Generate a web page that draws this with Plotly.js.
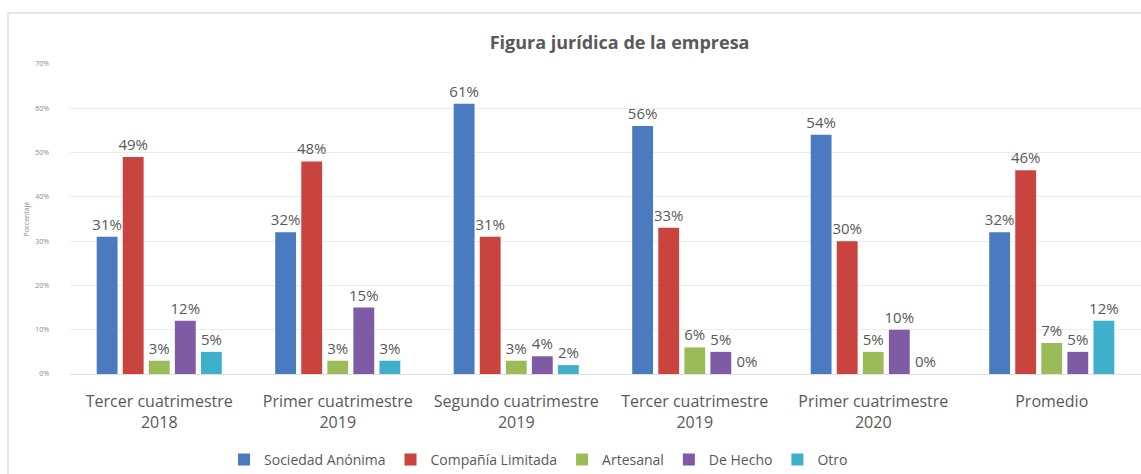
<!DOCTYPE html>
<html><head><meta charset="utf-8">
<script src="https://cdn.plot.ly/plotly-3.0.1.min.js"></script>
<style>
html,body{margin:0;padding:0;background:#fff;}
#wrap{position:relative;width:1141px;height:474px;}
#chart{width:1141px;height:474px;}
#frame{position:absolute;left:7px;top:12px;width:1140px;height:470px;border-left:2px solid #e6e6e6;border-top:2px solid #e6e6e6;pointer-events:none;}
</style></head>
<body><div id="wrap"><div id="chart"></div><div id="frame"></div></div>
<script>
const categories = ["Tercer cuatrimestre<br>2018","Primer cuatrimestre<br>2019","Segundo cuatrimestre<br>2019","Tercer cuatrimestre<br>2019","Primer cuatrimestre<br>2020","Promedio"];
const seriesNames = ["Sociedad Anónima","Compañía Limitada","Artesanal","De Hecho","Otro"];
const sociedadAnonima = [0.31,0.32,0.61,0.56,0.54,0.32];
const companiaLimitada = [0.49,0.48,0.31,0.33,0.30,0.46];
const artesanal = [0.03,0.03,0.03,0.06,0.05,0.07];
const deHecho = [0.12,0.15,0.04,0.05,0.10,0.05];
const otro = [0.05,0.03,0.02,0.00,0.00,0.12];
const yTickVals = [0,0.1,0.2,0.3,0.4,0.5,0.6,0.7];
const yTickText = ["0%","10%","20%","30%","40%","50%","60%","70%"];
const colors = ["#4a7bc0","#c9433f","#9bbb59","#7f5ba6","#3fb0cc"];
const allSeries = [sociedadAnonima,companiaLimitada,artesanal,deHecho,otro];
const font = "Open Sans, Lato, sans-serif";
const traces = allSeries.map((vals,i)=>({
  type:"bar", name:seriesNames[i], x:categories, y:vals,
  marker:{color:colors[i]},
  texttemplate:"%{y:.0%}", textposition:"outside", constraintext:"none",
  textfont:{family:font,size:15,color:"#595959"},
  cliponaxis:false, hoverinfo:"skip"
}));
const layout = {
  width:1141, height:474,
  margin:{l:70,r:0,t:64,b:100},
  paper_bgcolor:"#fff", plot_bgcolor:"#fff",
  barmode:"group", bargap:0.27, bargroupgap:0.2,
  title:{text:"<b>Figura jurídica de la empresa</b>", x:0.543, xanchor:"center", y:0.91, yanchor:"middle",
    font:{family:font,size:18,color:"#595959"}},
  xaxis:{tickfont:{family:font,size:16,color:"#595959"}, showline:false, ticks:"", showgrid:false, zeroline:false, automargin:false,
    ticklabelstandoff:16},
  yaxis:{range:[0,0.7], tickvals:yTickVals, ticktext:yTickText, tickfont:{family:font,size:7,color:"#8a8a8a"},
    gridcolor:"#ececec", gridwidth:1, zeroline:true, zerolinecolor:"#e0e0e0", showline:false, ticks:"",
    ticklabelstandoff:20, automargin:false,
    title:{text:"Porcentaje", font:{family:font,size:7,color:"#8a8a8a"}, standoff:4}},
  showlegend:true,
  legend:{orientation:"h", x:0.472, xanchor:"center", xref:"container", y:0.03, yanchor:"middle", yref:"container",
    font:{family:font,size:14,color:"#595959"}, itemwidth:30, traceorder:"normal"},
};
Plotly.newPlot("chart", traces, layout, {displayModeBar:false, staticPlot:true});
</script></body></html>
